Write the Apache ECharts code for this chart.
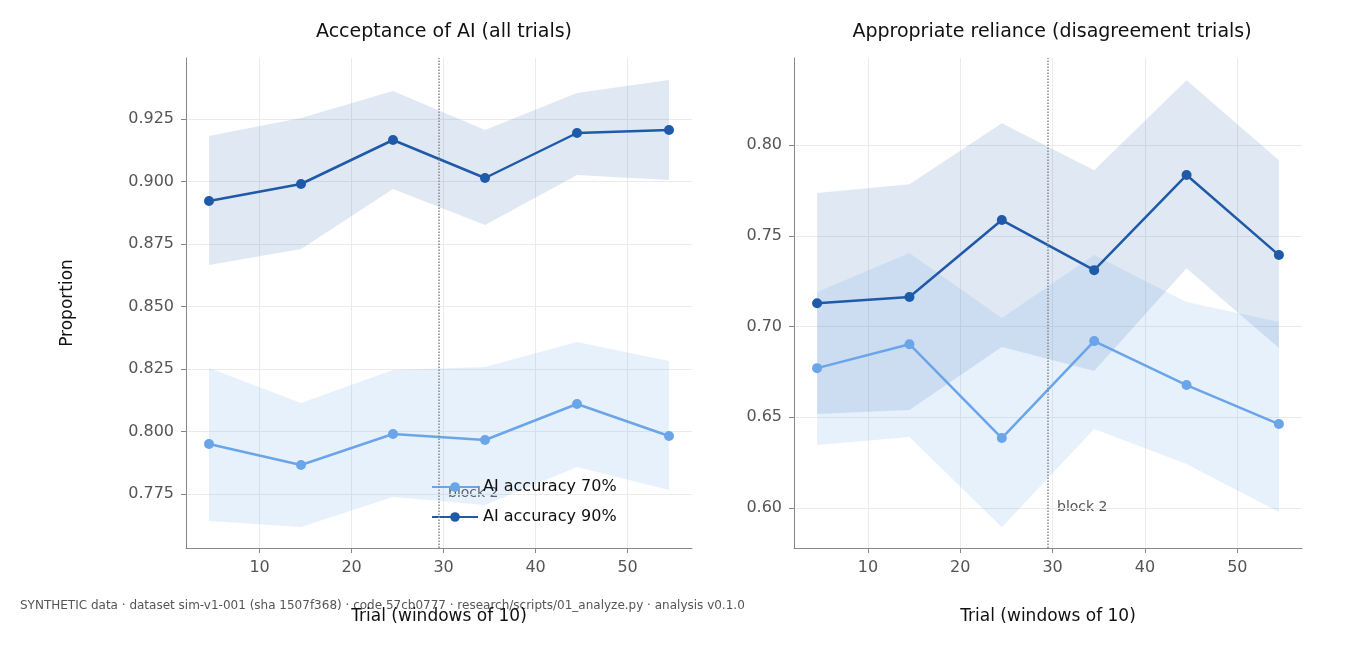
<!DOCTYPE html>
<html><head><meta charset="utf-8">
<script src="https://cdn.jsdelivr.net/npm/echarts@6/dist/echarts.min.js"></script>
<style>html,body{margin:0;background:#fff}#c{width:1364px;height:651px}</style>
</head><body><div id="c"></div>
<script>
const xs = [4.5, 14.5, 24.5, 34.5, 44.5, 54.5];
const xTicks = [10, 20, 30, 40, 50];
const leftTicks = [0.775, 0.800, 0.825, 0.850, 0.875, 0.900, 0.925];
const rightTicks = [0.60, 0.65, 0.70, 0.75, 0.80];
// Acceptance (all trials)
const acc90 = [0.8922, 0.8990, 0.9166, 0.9014, 0.9194, 0.9206];
const acc90Lo = [0.8666, 0.8730, 0.8970, 0.8826, 0.9026, 0.9006];
const acc90Hi = [0.9182, 0.9254, 0.9362, 0.9206, 0.9354, 0.9406];
const acc70 = [0.7950, 0.7866, 0.7990, 0.7966, 0.8110, 0.7982];
const acc70Lo = [0.7642, 0.7618, 0.7738, 0.7706, 0.7858, 0.7766];
const acc70Hi = [0.8254, 0.8114, 0.8246, 0.8258, 0.8358, 0.8282];
// Appropriate reliance (disagreement trials)
const rel90 = [0.7129, 0.7163, 0.7587, 0.7311, 0.7835, 0.7394];
const rel90Lo = [0.6518, 0.6540, 0.6887, 0.6755, 0.7322, 0.6882];
const rel90Hi = [0.7736, 0.7785, 0.8121, 0.7862, 0.8358, 0.7917];
const rel70 = [0.6771, 0.6903, 0.6386, 0.6920, 0.6678, 0.6463];
const rel70Lo = [0.6347, 0.6391, 0.5895, 0.6436, 0.6243, 0.5978];
const rel70Hi = [0.7190, 0.7405, 0.7047, 0.7394, 0.7135, 0.7025];
const blockX = 29.5;

const F = 'DejaVu Sans';
const C90 = '#1f5aa8', C70 = '#6aa5ea';
const pts = a => xs.map((x, i) => [x, a[i]]);
function band(idx, lo, hi, color) {
  const data = xs.map((x, i) => [x, lo[i], hi[i]]);
  return {type:'custom', xAxisIndex:idx, yAxisIndex:idx, data:data, silent:true, z:1,
    renderItem:(params, api) => {
      if (params.dataIndex !== 0) return null;
      const top = data.map(d => api.coord([d[0], d[2]]));
      const bot = data.map(d => api.coord([d[0], d[1]])).reverse();
      return {type:'polygon', shape:{points:top.concat(bot)}, style:{fill:color}};
    }};
}
function line(idx, d, color, name) {
  return {type:'line', name:name, xAxisIndex:idx, yAxisIndex:idx, data:pts(d), symbol:'circle', symbolSize:10,
    itemStyle:{color:color}, lineStyle:{color:color, width:2.5}, z:3};
}
const vline = idx => ({type:'line', xAxisIndex:idx, yAxisIndex:idx, data:[], markLine:{silent:true, symbol:'none',
  lineStyle:{color:'#888', type:'dotted', width:1.5}, label:{show:false}, data:[{xAxis:blockX}]}});
const ax = {color:'#555', fontSize:16, fontFamily:F};
function xAxis(idx) {
  return {type:'value', gridIndex:idx, min:2, max:57, name:'Trial (windows of 10)', nameLocation:'middle', nameGap:60,
    nameTextStyle:{fontSize:17, color:'#111', fontFamily:F},
    axisLine:{lineStyle:{color:'#888'}}, axisTick:{customValues:xTicks, lineStyle:{color:'#888'}},
    axisLabel:Object.assign({customValues:xTicks, margin:12}, ax), splitLine:{show:true, lineStyle:{color:'#ebebeb'}}};
}
function yAxis(idx, min, max, ticks, dec, name) {
  return {type:'value', gridIndex:idx, min:min, max:max, name:name, nameLocation:'middle', nameGap:110,
    nameTextStyle:{fontSize:17, color:'#111', fontFamily:F},
    axisLine:{show:true, lineStyle:{color:'#888'}}, axisTick:{show:true, customValues:ticks, lineStyle:{color:'#888'}},
    axisLabel:Object.assign({customValues:ticks, margin:12, formatter:v => v.toFixed(dec)}, ax),
    splitLine:{show:true, lineStyle:{color:'#ebebeb'}}};
}
const chart = echarts.init(document.getElementById('c'));
chart.setOption({
  animation:false,
  textStyle:{fontFamily:F},
  title:[
    {text:'Acceptance of AI (all trials)', left:439, top:18, textAlign:'center', textStyle:{fontSize:19, fontWeight:'normal', color:'#111', fontFamily:F}},
    {text:'Appropriate reliance (disagreement trials)', left:1047, top:18, textAlign:'center', textStyle:{fontSize:19, fontWeight:'normal', color:'#111', fontFamily:F}}
  ],
  grid:[{left:186, right:672, top:58, bottom:103}, {left:794, right:62, top:58, bottom:103}],
  xAxis:[xAxis(0), xAxis(1)],
  yAxis:[yAxis(0, 0.7534, 0.9494, leftTicks, 3, 'Proportion'), yAxis(1, 0.578, 0.848, rightTicks, 2, '')],
  legend:{left:426, top:474, orient:'vertical', itemWidth:46, itemHeight:12, itemGap:14,
    textStyle:{fontSize:16, color:'#111', fontFamily:F}, data:['AI accuracy 70%', 'AI accuracy 90%']},
  graphic:[
    {type:'text', left:20, top:600, style:{text:'SYNTHETIC data · dataset sim-v1-001 (sha 1507f368) · code 57cb0777 · research/scripts/01_analyze.py · analysis v0.1.0', fontSize:12, fill:'#555', fontFamily:F}},
    {type:'text', left:448, top:486, style:{text:'block 2', fontSize:14, fill:'#555', fontFamily:F}},
    {type:'text', left:1057, top:500, style:{text:'block 2', fontSize:14, fill:'#555', fontFamily:F}}
  ],
  series:[
    band(0, acc90Lo, acc90Hi, 'rgba(31,90,168,0.14)'),
    band(0, acc70Lo, acc70Hi, 'rgba(106,165,234,0.16)'),
    band(1, rel90Lo, rel90Hi, 'rgba(31,90,168,0.14)'),
    band(1, rel70Lo, rel70Hi, 'rgba(106,165,234,0.16)'),
    vline(0), vline(1),
    line(0, acc70, C70, 'AI accuracy 70%'), line(0, acc90, C90, 'AI accuracy 90%'),
    line(1, rel70, C70, 'AI accuracy 70%'), line(1, rel90, C90, 'AI accuracy 90%')
  ]
});
</script></body></html>
